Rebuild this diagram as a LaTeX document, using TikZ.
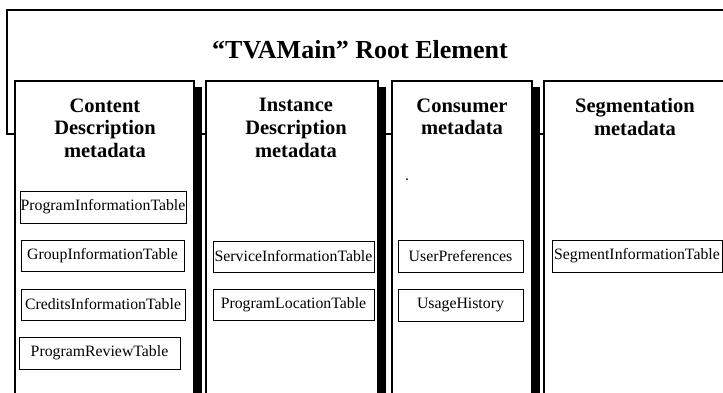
\documentclass[tikz,border=0pt]{standalone}
\usepackage{fontspec}
\setmainfont{Liberation Serif}
\begin{document}
\begin{tikzpicture}[x=1pt,y=-1pt,line width=1.1pt,
  panel/.style={draw,fill=white},
  panelshadow/.style={fill=black},
  tablebox/.style={draw,fill=white,line width=0.9pt,inner sep=0pt,
    font=\fontsize{15.8}{18}\selectfont},
  paneltitle/.style={align=center,anchor=north,inner sep=0pt,
    font=\fontsize{20.5}{22.8}\selectfont\bfseries}]
\useasboundingbox (0,0) rectangle (723,392);
\clip (0,0) rectangle (723,392);

% root element frame (runs off the right edge)
\draw[fill=white] (7,10) rectangle (760,134);
\node[font=\fontsize{26}{30}\selectfont\bfseries] (root) at (360,50) {“TVAMain” Root Element};

% metadata panels with their drop shadows
\fill[panelshadow] (21,87) rectangle (202,420);
\draw[panel] (15,81) rectangle (194,420);
\fill[panelshadow] (212,87) rectangle (386,420);
\draw[panel] (206,81) rectangle (378,420);
\fill[panelshadow] (398,87) rectangle (540,420);
\draw[panel] (392,81) rectangle (532,420);
\fill[panelshadow] (550,87) rectangle (760,420);
\draw[panel] (544,81) rectangle (760,420);

\node[paneltitle] (t1) at (105,98) {Content\\Description\\metadata};
\node[paneltitle] (t2) at (296,98) {Instance\\Description\\metadata};
\node[paneltitle] (t3) at (462,98) {Consumer\\metadata};
\node[paneltitle] (t4) at (635,98) {Segmentation\\metadata};

% tables of each panel
\node[tablebox,minimum width=166pt,minimum height=32pt] (pit) at (103,207) {ProgramInformationTable};
\node[tablebox,minimum width=163pt,minimum height=31pt] (git) at (102.5,255.5) {GroupInformationTable};
\node[tablebox,minimum width=164pt,minimum height=31pt] (cit) at (103,304.5) {CreditsInformationTable};
\node[tablebox,minimum width=161pt,minimum height=32pt] (prt) at (99.5,353) {ProgramReviewTable};

\node[tablebox,minimum width=161pt,minimum height=31pt] (sit) at (293.5,256.5) {ServiceInformationTable};
\node[tablebox,minimum width=161pt,minimum height=31pt] (plt) at (293.5,304.5) {ProgramLocationTable};

\node[tablebox,minimum width=125pt,minimum height=32pt] (up) at (460.5,256) {UserPreferences};
\node[tablebox,minimum width=125pt,minimum height=32pt] (uh) at (460.5,305) {UsageHistory};

\node[tablebox,minimum width=170pt,minimum height=32pt] (segit) at (637,256) {SegmentInformationTable};

\fill (407,179) circle (1pt);
\end{tikzpicture}
\end{document}
